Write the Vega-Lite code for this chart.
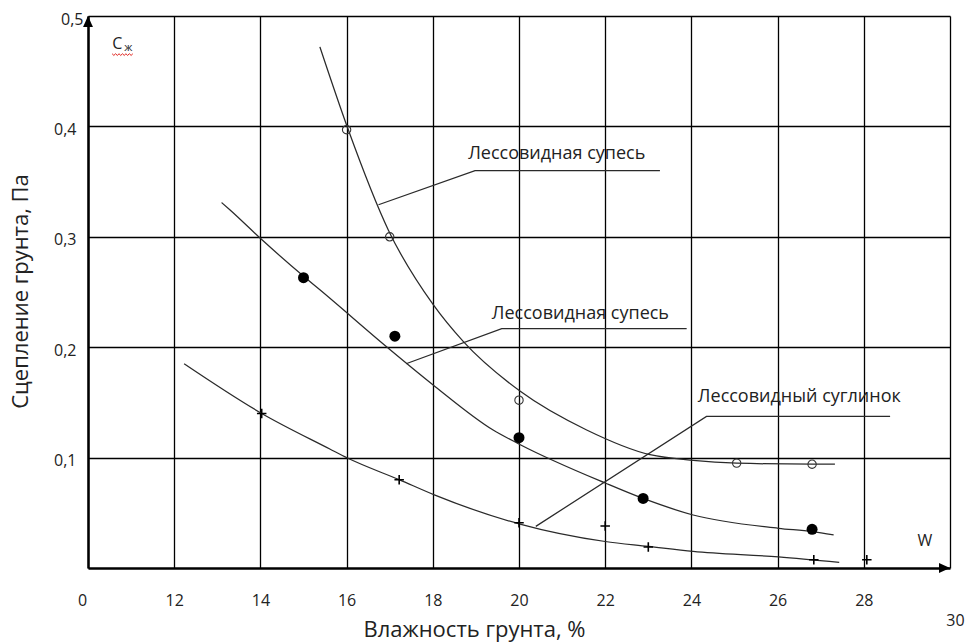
{
  "$schema": "https://vega.github.io/schema/vega-lite/v6.json",
  "autosize": "none",
  "width": 862,
  "height": 552,
  "padding": {"left": 88, "top": 16, "right": 16, "bottom": 74},
  "background": "white",
  "config": {
    "view": {"stroke": null},
    "font": "Open Sans",
    "text": {"font": "Open Sans", "color": "#222"}
  },
  "datasets": {
    "curves": [
      {"s": "A", "w": 15.38, "c": 0.472}, {"s": "A", "w": 16.02, "c": 0.399}, {"s": "A", "w": 16.97, "c": 0.306},
      {"s": "A", "w": 18.01, "c": 0.2385}, {"s": "A", "w": 18.71, "c": 0.205}, {"s": "A", "w": 20.03, "c": 0.160},
      {"s": "A", "w": 21.57, "c": 0.125}, {"s": "A", "w": 23.04, "c": 0.1026}, {"s": "A", "w": 24.04, "c": 0.0975},
      {"s": "A", "w": 25.05, "c": 0.095}, {"s": "A", "w": 26.8, "c": 0.094}, {"s": "A", "w": 27.33, "c": 0.094},
      {"s": "B", "w": 13.1, "c": 0.331}, {"s": "B", "w": 13.29, "c": 0.3245}, {"s": "B", "w": 14.03, "c": 0.2975},
      {"s": "B", "w": 15.01, "c": 0.264}, {"s": "B", "w": 15.38, "c": 0.252}, {"s": "B", "w": 16.97, "c": 0.199},
      {"s": "B", "w": 18.05, "c": 0.1645}, {"s": "B", "w": 19.4, "c": 0.125}, {"s": "B", "w": 20.03, "c": 0.1117},
      {"s": "B", "w": 22.0, "c": 0.077}, {"s": "B", "w": 22.88, "c": 0.063}, {"s": "B", "w": 24.04, "c": 0.048},
      {"s": "B", "w": 26.02, "c": 0.036}, {"s": "B", "w": 26.8, "c": 0.033}, {"s": "B", "w": 27.3, "c": 0.030},
      {"s": "C", "w": 12.23, "c": 0.185}, {"s": "C", "w": 14.03, "c": 0.140}, {"s": "C", "w": 15.61, "c": 0.1078},
      {"s": "C", "w": 16.02, "c": 0.0996}, {"s": "C", "w": 17.22, "c": 0.080}, {"s": "C", "w": 18.05, "c": 0.066},
      {"s": "C", "w": 20.0, "c": 0.040}, {"s": "C", "w": 22.0, "c": 0.024}, {"s": "C", "w": 23.0, "c": 0.0196},
      {"s": "C", "w": 24.04, "c": 0.015}, {"s": "C", "w": 26.02, "c": 0.010}, {"s": "C", "w": 27.43, "c": 0.005}
    ],
    "leaders": [
      {"l": "1", "w": 16.74, "c": 0.329}, {"l": "1", "w": 18.98, "c": 0.360}, {"l": "1", "w": 23.27, "c": 0.360},
      {"l": "2", "w": 17.38, "c": 0.185}, {"l": "2", "w": 19.6, "c": 0.2168}, {"l": "2", "w": 23.89, "c": 0.2168},
      {"l": "3", "w": 20.39, "c": 0.0377}, {"l": "3", "w": 24.35, "c": 0.1373}, {"l": "3", "w": 28.61, "c": 0.1373}
    ],
    "pointsA": [
      {"w": 16.0, "c": 0.397}, {"w": 17.0, "c": 0.300}, {"w": 20.0, "c": 0.152}, {"w": 25.05, "c": 0.095}, {"w": 26.8, "c": 0.094}
    ],
    "pointsB": [
      {"w": 15.0, "c": 0.263}, {"w": 17.12, "c": 0.210}, {"w": 20.0, "c": 0.118}, {"w": 22.88, "c": 0.063}, {"w": 26.8, "c": 0.035}
    ],
    "pointsC": [
      {"w": 14.03, "c": 0.140}, {"w": 17.22, "c": 0.080}, {"w": 20.0, "c": 0.041}, {"w": 22.0, "c": 0.038},
      {"w": 23.0, "c": 0.019}, {"w": 26.84, "c": 0.0075}, {"w": 28.07, "c": 0.0075}
    ],
    "labels": [
      {"w": 18.82, "c": 0.3705, "t": "Лессовидная супесь"},
      {"w": 19.37, "c": 0.2258, "t": "Лессовидная супесь"},
      {"w": 24.15, "c": 0.1506, "t": "Лессовидный суглинок"}
    ]
  },
  "layer": [
    {
      "data": {"name": "curves"},
      "mark": {"type": "line", "interpolate": "monotone", "stroke": "#2a2a2a", "strokeWidth": 1.25},
      "encoding": {
        "x": {
          "field": "w", "type": "quantitative",
          "scale": {"domain": [10, 30], "nice": false, "zero": false},
          "axis": {
            "values": [10, 12, 14, 16, 18, 20, 22, 24, 26, 28, 30],
            "labelExpr": "datum.value == 10 ? '0' : datum.label",
            "grid": true, "gridColor": "#000", "gridWidth": 1.3, "gridOpacity": 1,
            "domain": true, "domainColor": "#000", "domainWidth": 2.5,
            "ticks": false, "tickSize": 0,
            "labelFont": "Open Sans", "labelFontSize": 16, "labelColor": "#222",
            "labelBaseline": "middle", "labelAlign": "center",
            "labelPadding": {"condition": {"test": "datum.value == 30", "value": 52}, "value": 32},
            "labelOffset": {"condition": [{"test": "datum.value == 10", "value": -6}, {"test": "datum.value == 30", "value": 5}], "value": 0},
            "labelFlush": false, "labelOverlap": false,
            "title": "Влажность грунта, %",
            "titleFont": "Open Sans", "titleFontSize": 22, "titleFontWeight": "normal", "titleColor": "#222",
            "titleX": 386, "titleY": 68, "titleAlign": "center", "titleBaseline": "alphabetic", "titleAnchor": null
          }
        },
        "y": {
          "field": "c", "type": "quantitative",
          "scale": {"domain": [0, 0.5], "nice": false},
          "axis": {
            "values": [0.1, 0.2, 0.3, 0.4, 0.5],
            "labelExpr": "replace(format(datum.value, '.1f'), '.', ',')",
            "grid": true, "gridColor": "#000", "gridWidth": 1.3, "gridOpacity": 1,
            "domain": true, "domainColor": "#000", "domainWidth": 2.5,
            "ticks": false, "tickSize": 0,
            "labelFont": "Open Sans", "labelFontSize": 16, "labelColor": "#222",
            "labelBaseline": "middle",
            "labelPadding": {"condition": {"test": "datum.value == 0.5", "value": 5}, "value": 12},
            "labelOffset": 3,
            "labelFlush": false, "labelOverlap": false,
            "title": "Сцепление грунта, Па",
            "titleFont": "Open Sans", "titleFontSize": 22, "titleFontWeight": "normal", "titleColor": "#222",
            "titleX": -68, "titleY": 275, "titleAngle": 270, "titleAlign": "center", "titleBaseline": "middle", "titleAnchor": null
          }
        },
        "detail": {"field": "s"}
      }
    },
    {
      "data": {"name": "leaders"},
      "mark": {"type": "line", "stroke": "#2a2a2a", "strokeWidth": 1.25},
      "encoding": {
        "x": {"field": "w", "type": "quantitative"},
        "y": {"field": "c", "type": "quantitative"},
        "detail": {"field": "l"}
      }
    },
    {
      "data": {"name": "pointsA"},
      "mark": {"type": "point", "shape": "circle", "size": 70, "filled": false, "stroke": "#333", "strokeWidth": 1.1, "opacity": 1},
      "encoding": {
        "x": {"field": "w", "type": "quantitative"},
        "y": {"field": "c", "type": "quantitative"}
      }
    },
    {
      "data": {"name": "pointsB"},
      "mark": {"type": "point", "shape": "circle", "size": 121, "filled": true, "fill": "#000", "opacity": 1},
      "encoding": {
        "x": {"field": "w", "type": "quantitative"},
        "y": {"field": "c", "type": "quantitative"}
      }
    },
    {
      "data": {"name": "pointsC"},
      "mark": {"type": "point", "shape": "M-1,0L1,0M0,-1L0,1", "size": 90, "filled": false, "stroke": "#000", "strokeWidth": 1.6, "opacity": 1},
      "encoding": {
        "x": {"field": "w", "type": "quantitative"},
        "y": {"field": "c", "type": "quantitative"}
      }
    },
    {
      "data": {"name": "labels"},
      "mark": {"type": "text", "align": "left", "baseline": "alphabetic", "fontSize": 18, "font": "Open Sans", "color": "#222"},
      "encoding": {
        "x": {"field": "w", "type": "quantitative"},
        "y": {"field": "c", "type": "quantitative"},
        "text": {"field": "t"}
      }
    },
    {
      "data": {"values": [{"w": 29.42, "c": 0.0247, "t": "W"}]},
      "mark": {"type": "text", "align": "center", "baseline": "middle", "fontSize": 16, "font": "Open Sans", "color": "#222"},
      "encoding": {
        "x": {"field": "w", "type": "quantitative"},
        "y": {"field": "c", "type": "quantitative"},
        "text": {"field": "t"}
      }
    },
    {
      "data": {"values": [{"w": 10.56, "c": 0.4704, "t": "С"}]},
      "mark": {"type": "text", "align": "left", "baseline": "alphabetic", "fontSize": 16, "font": "Open Sans", "color": "#222"},
      "encoding": {
        "x": {"field": "w", "type": "quantitative"},
        "y": {"field": "c", "type": "quantitative"},
        "text": {"field": "t"}
      }
    },
    {
      "data": {"values": [{"w": 10.84, "c": 0.4685, "t": "ж"}]},
      "mark": {"type": "text", "align": "left", "baseline": "alphabetic", "fontSize": 11, "font": "Open Sans", "color": "#222"},
      "encoding": {
        "x": {"field": "w", "type": "quantitative"},
        "y": {"field": "c", "type": "quantitative"},
        "text": {"field": "t"}
      }
    },
    {
      "data": {"values": [
        {"i": 0, "w": 10.56, "c": 0.4658}, {"i": 1, "w": 10.6, "c": 0.4643}, {"i": 2, "w": 10.64, "c": 0.4658},
        {"i": 3, "w": 10.68, "c": 0.4643}, {"i": 4, "w": 10.72, "c": 0.4658}, {"i": 5, "w": 10.76, "c": 0.4643},
        {"i": 6, "w": 10.8, "c": 0.4658}, {"i": 7, "w": 10.84, "c": 0.4643}, {"i": 8, "w": 10.88, "c": 0.4658},
        {"i": 9, "w": 10.92, "c": 0.4643}, {"i": 10, "w": 10.96, "c": 0.4658}, {"i": 11, "w": 11.0, "c": 0.4643},
        {"i": 12, "w": 11.04, "c": 0.4658}
      ]},
      "mark": {"type": "line", "stroke": "#e0201a", "strokeWidth": 1},
      "encoding": {
        "x": {"field": "w", "type": "quantitative"},
        "y": {"field": "c", "type": "quantitative"},
        "order": {"field": "i"}
      }
    },
    {
      "data": {"values": [{"w": 10, "c": 0.5}]},
      "mark": {"type": "point", "shape": "M0,0L0.9,2L-0.9,2Z", "size": 121, "filled": true, "fill": "#000", "opacity": 1},
      "encoding": {
        "x": {"field": "w", "type": "quantitative"},
        "y": {"field": "c", "type": "quantitative"}
      }
    },
    {
      "data": {"values": [{"w": 30, "c": 0}]},
      "mark": {"type": "point", "shape": "M0,0L-2,-0.9L-2,0.9Z", "size": 121, "filled": true, "fill": "#000", "opacity": 1},
      "encoding": {
        "x": {"field": "w", "type": "quantitative"},
        "y": {"field": "c", "type": "quantitative"}
      }
    }
  ]
}
